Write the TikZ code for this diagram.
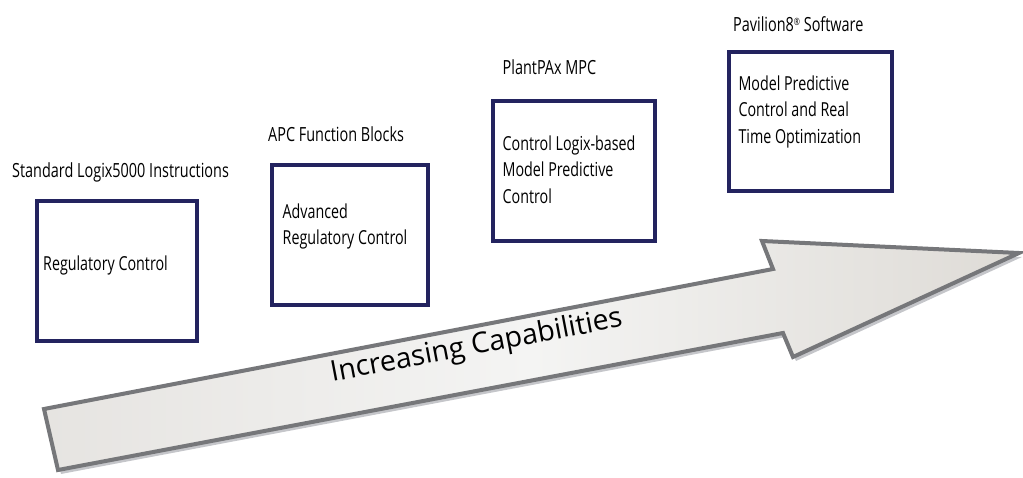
\documentclass[tikz,border=0pt]{standalone}
\usepackage{fontspec}
\setmainfont{Open Sans}
\newfontfamily\condfont[FakeStretch=0.74]{Open Sans}
\definecolor{navy}{HTML}{23235F}
\definecolor{arrowedge}{HTML}{76777A}
\definecolor{arrowshadow}{HTML}{C5C6CA}
\definecolor{fillA}{HTML}{E6E4E1}
\definecolor{fillB}{HTML}{F4F4F3}
\definecolor{fillC}{HTML}{DEDBD6}
\begin{document}
\begin{tikzpicture}[x=1pt,y=-1pt,
  capbox/.style={draw=navy,line width=4pt,fill=white},
  boxtext/.style={anchor=base west,inner sep=0pt,align=left,font=\condfont\fontsize{19.3}{26.5}\selectfont,text=black},
  levellabel/.style={anchor=base west,inner sep=0pt,font=\condfont\fontsize{19.5}{26.5}\selectfont,text=black}]
\useasboundingbox (0,0) rectangle (1023,478);
% arrow shadow
\fill[arrowshadow,shift={(3,4)}] (44,409) -- (773,269) -- (762,241) -- (1019,253) -- (793,357) -- (783,333) -- (58,470) -- cycle;
% arrow
\path[draw=arrowedge,line width=4pt,line join=miter,left color=fillA,right color=fillC,middle color=fillB]
  (44,409) coordinate (tailtop) -- (773,269) -- (762,241) -- (1019,253) coordinate (tip) -- (793,357) -- (783,333) -- (58,470) coordinate (tailbot) -- cycle;
\node[anchor=base,inner sep=0pt,rotate=10.8,font=\fontsize{28.5}{34}\selectfont,text=black] (inc) at (478,354) {Increasing Capabilities};
% boxes
\draw[capbox] (37,201) rectangle (197,341);
\coordinate (b1) at (37,201);
\draw[capbox] (272,165) rectangle (428,305);
\coordinate (b2) at (272,165);
\draw[capbox] (493,101) rectangle (655,241);
\coordinate (b3) at (493,101);
\draw[capbox] (729,52) rectangle (892,191);
\coordinate (b4) at (729,52);
% labels
\node[levellabel] (l1) at (12,178) {Standard Logix5000 Instructions};
\node[levellabel] (l2) at (268,141.5) {APC Function Blocks};
\node[levellabel] (l3) at (502.5,75) {PlantPAx MPC};
\node[levellabel] (l4) at (733,31.5) {Pavilion8\raisebox{6pt}{\fontsize{10}{10}\selectfont ®} Software};
% box texts (anchored at baseline of last line)
\node[boxtext] (t1) at (43,271) {Regulatory Control};
\node[boxtext] (t2) at (282.5,245) {Advanced\\Regulatory Control};
\node[boxtext] (t3) at (502.5,203.3) {Control Logix-based\\Model Predictive\\Control};
\node[boxtext] (t4) at (738.3,143.3) {Model Predictive\\Control and Real\\Time Optimization};
\end{tikzpicture}
\end{document}
